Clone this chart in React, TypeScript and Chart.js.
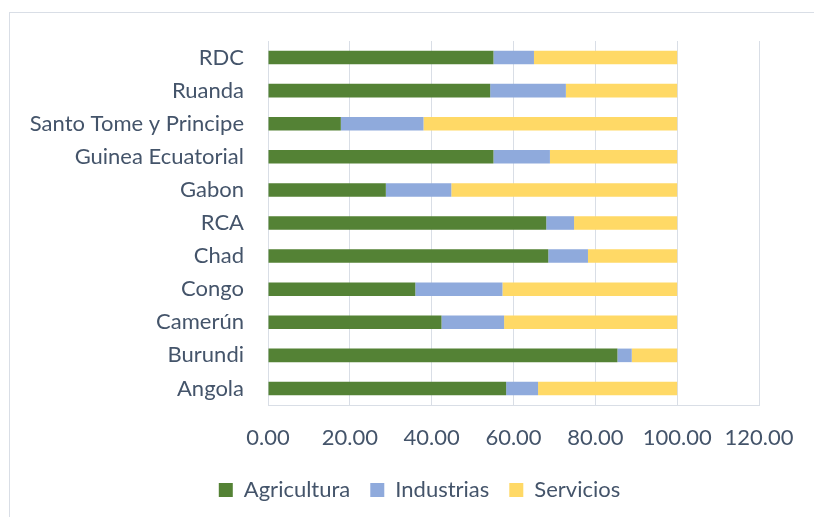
import React, { useEffect, useRef } from "react";
import { Chart, registerables } from "chart.js";

Chart.register(...registerables);

const countries = [
  "RDC",
  "Ruanda",
  "Santo Tome y Principe",
  "Guinea Ecuatorial",
  "Gabon",
  "RCA",
  "Chad",
  "Congo",
  "Camerún",
  "Burundi",
  "Angola",
];
const agricultura = [55.1, 54.3, 17.8, 55.1, 28.8, 68.0, 68.5, 36.0, 42.4, 85.4, 58.2];
const industrias = [9.9, 18.5, 20.2, 13.8, 16.0, 6.8, 9.7, 21.3, 15.3, 3.5, 7.8];
const servicios = [35.0, 27.2, 62.0, 31.1, 55.2, 25.2, 21.8, 42.7, 42.3, 11.1, 34.0];
const seriesNames = ["Agricultura", "Industrias", "Servicios"];
const xMax = 120;
const xStep = 20;

const TEXT = "#44546A";
const GRID = "#D9DEE6";
const FONT = "Lato, 'Open Sans', sans-serif";

const legendShift = {
  id: "legendShift",
  afterLayout(chart: any) {
    if (chart.legend) {
      chart.legend.left += 40;
      chart.legend.right += 40;
    }
  },
};

export default function App() {
  const ref = useRef<HTMLCanvasElement>(null);
  useEffect(() => {
    if (!ref.current) return;
    const chart = new Chart(ref.current, {
      type: "bar",
      data: {
        labels: countries,
        datasets: [
          { label: seriesNames[0], data: agricultura, backgroundColor: "#548235" },
          { label: seriesNames[1], data: industrias, backgroundColor: "#8FAADC" },
          { label: seriesNames[2], data: servicios, backgroundColor: "#FFD966" },
        ],
      },
      options: {
        indexAxis: "y",
        responsive: false,
        animation: false,
        datasets: {
          bar: { barPercentage: 1, categoryPercentage: 0.41, borderWidth: 0 },
        },
        layout: { padding: { left: 0, top: 41, right: 55, bottom: 6 } },
        scales: {
          x: {
            stacked: true,
            min: 0,
            max: xMax,
            ticks: {
              stepSize: xStep,
              color: TEXT,
              font: { family: FONT, size: 22 },
              padding: 20,
              maxRotation: 0,
              callback: (v: any) => Number(v).toFixed(2),
            },
            grid: { color: GRID, lineWidth: 1, drawTicks: false },
            border: { display: true, color: GRID },
            afterFit: (s: any) => {
              s.height = 54;
            },
          },
          y: {
            stacked: true,
            ticks: {
              color: TEXT,
              font: { family: FONT, size: 22 },
              padding: 24,
            },
            grid: { display: false, drawTicks: false },
            border: { display: false },
            afterFit: (s: any) => {
              s.width = 268;
            },
          },
        },
        plugins: {
          legend: {
            position: "bottom",
            labels: {
              color: TEXT,
              font: { family: FONT, size: 22 },
              boxWidth: 14,
              boxHeight: 14,
              padding: 20,
            },
          },
          tooltip: { enabled: false },
        },
      },
      plugins: [legendShift],
    });
    return () => chart.destroy();
  }, []);
  return (
    <>
      <div
        style={{
          position: "fixed",
          left: 9,
          top: 12,
          right: 0,
          bottom: 0,
          borderTop: `1px solid ${GRID}`,
          borderLeft: `1px solid ${GRID}`,
          background: "#fff",
        }}
      />
      <canvas
        ref={ref}
        width={814}
        height={517}
        style={{ position: "fixed", left: 0, top: 0, width: 814, height: 517 }}
      />
    </>
  );
}
